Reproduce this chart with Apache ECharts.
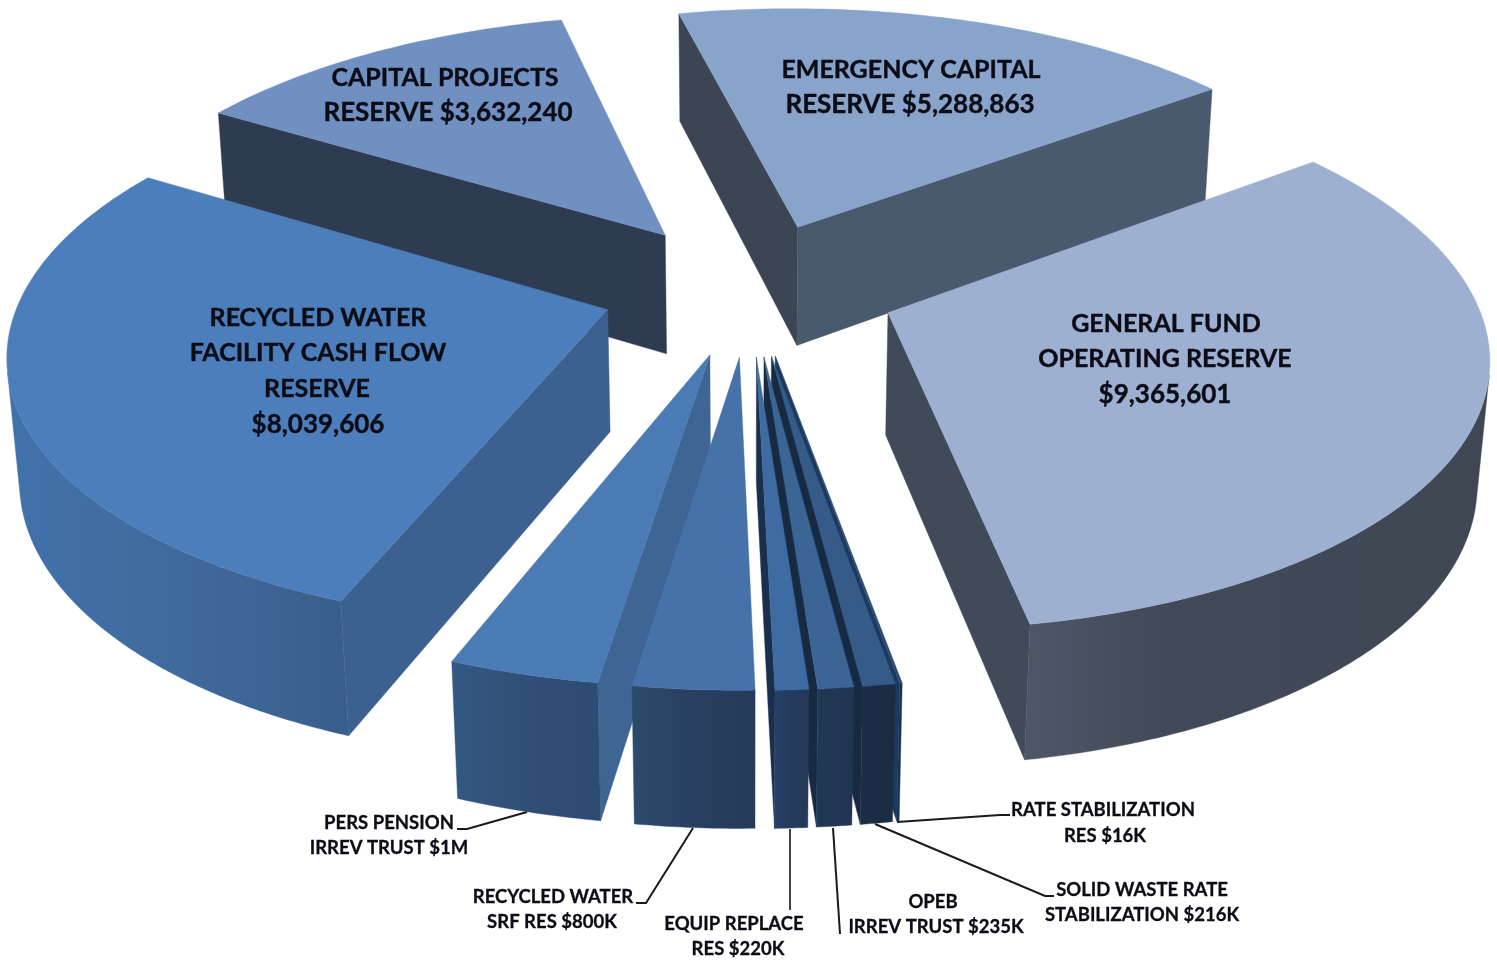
<!DOCTYPE html>
<html>
<head>
<meta charset="utf-8">
<title>Reserve balances</title>
<style>html,body{margin:0;padding:0;background:#fff}#chart{width:1497px;height:962px}</style>
<script src="https://cdn.jsdelivr.net/npm/echarts@6/dist/echarts.min.js"></script>
</head>
<body>
<div id="chart"></div>
<script>
// Reserve balances, clockwise from the general fund.
const sliceNames = ['General Fund Operating Reserve', 'Rate Stabilization Res', 'Solid Waste Rate Stabilization',
  'OPEB Irrev Trust', 'Equip Replace Res', 'Recycled Water SRF Res', 'PERS Pension Irrev Trust',
  'Recycled Water Facility Cash Flow Reserve', 'Capital Projects Reserve', 'Emergency Capital Reserve'];
const sliceValues = [9365601, 16000, 216000, 235000, 220000, 800000, 1000000, 8039606, 3632240, 5288863];

const bigLabels = [
  ['GENERAL FUND', 'OPERATING RESERVE', '$9,365,601'],
  ['EMERGENCY CAPITAL', 'RESERVE $5,288,863'],
  ['CAPITAL PROJECTS', 'RESERVE $3,632,240'],
  ['RECYCLED WATER', 'FACILITY CASH FLOW', 'RESERVE', '$8,039,606']
];
const smallLabels = [
  ['PERS PENSION', 'IRREV TRUST $1M'],
  ['RECYCLED WATER', 'SRF RES $800K'],
  ['EQUIP REPLACE', 'RES $220K'],
  ['OPEB', 'IRREV TRUST $235K'],
  ['SOLID WASTE RATE', 'STABILIZATION $216K'],
  ['RATE STABILIZATION', 'RES $16K']
];

// Layout of the text blocks: centre x and middle y of each line.
const bigLabelPos = [
  [[1166, 324], [1165, 359], [1165, 395]],
  [[911, 70], [910, 105]],
  [[445, 78], [448, 113]],
  [[318, 318], [318, 353], [317, 389], [318, 425]]
];
const smallLabelPos = [
  [[389, 823], [389, 848]],
  [[553, 897], [552, 922]],
  [[734, 924], [738, 949]],
  [[933, 902], [936, 927]],
  [[1142, 890], [1142, 915]],
  [[1103, 810], [1105, 836]]
];
const leaderPaths = [
  [[457, 829], [467, 829], [527, 812]],
  [[636, 903], [646, 903], [693, 828]],
  [[790, 829], [790, 910]],
  [[833, 828], [840, 934]],
  [[875, 824], [1045, 896], [1054, 896]],
  [[897, 822], [1000, 815], [1010, 815]]
];

// Colours per slice, same order as sliceValues.
const topColors = ['#9EB0D1', '#2A4A70', '#365B88', '#3A6595', '#3E6CA2', '#4671A9', '#4A7BB5', '#4C7EBB', '#7090C2', '#89A4CB'];
const startFaceColors = ['#414A58', '#1B3A5F', '#1B2D45', '#1B2D45', '#1B2F4C', '#2A4A70', '#3E6594', '#3C6090', '#2E3B50', '#3C4554'];
const endFaceColors = ['#414A58', '#1B3A5F', '#182A42', '#182A42', '#1B2F4C', '#2A4A70', '#3E6594', '#3C6090', '#2E3B50', '#4A5A6E'];
const wallColors = [
  ['#4E5768', '#424A58', '#3F4753'], ['#1A3250', '#1A3250', '#1A3250'], ['#1C2D45', '#1B2D44', '#1B2C42'],
  ['#213855', '#203654', '#1F3450'], ['#26416A', '#25395A', '#243858'], ['#2C4B6D', '#283F60', '#253B5A'],
  ['#345882', '#314F76', '#2E4C71'], ['#4272AB', '#3F6A9D', '#3A5E8B'], ['#2E3B50', '#2E3B50', '#2E3B50'], ['#4A5A6E', '#4A5A6E', '#4A5A6E']
];

// Painter's order: far slices first, then the front ones from right to left.
const drawOrder = [9, 8, 0, 7, 6, 5, 1, 2, 3, 4];

// Camera and solid geometry for the tilted, exploded pie.
const CX = 749, CY = 288, RADIUS = 585, DEPTH = 138, EXPLODE = 0.252;
const TILT = Math.asin(0.453), CAMERA = 3720, START_DEG = 53;
const total = sliceValues.reduce((a, b) => a + b, 0);

const sliceAngles = [];
sliceValues.reduce((acc, v) => {
  const next = acc + v / total * 360;
  sliceAngles.push([acc, next]);
  return next;
}, START_DEG);

const rad = d => d * Math.PI / 180;

function project(deg, r, bisector, bottom) {
  const X = RADIUS * (r * Math.sin(rad(deg)) + EXPLODE * Math.sin(rad(bisector)));
  const Y = RADIUS * (-r * Math.cos(rad(deg)) - EXPLODE * Math.cos(rad(bisector)));
  const Z = bottom ? -DEPTH : 0;
  const w = CAMERA - Y * Math.cos(TILT) - Z * Math.sin(TILT);
  return [CX + X * CAMERA / w, CY + (Y * Math.sin(TILT) - Z * Math.cos(TILT)) * CAMERA / w];
}

// True where the rim at this angle faces the camera.
function rimFacesCamera(deg, bisector) {
  const u = Math.sin(rad(deg)), v = -Math.cos(rad(deg));
  const px = RADIUS * (u + EXPLODE * Math.sin(rad(bisector)));
  const py = RADIUS * (v - EXPLODE * Math.cos(rad(bisector)));
  return u * (0 - px) + v * (CAMERA * Math.cos(TILT) - py) > 0;
}

function arcAngles(a0, a1, step) {
  const out = [];
  const n = Math.max(2, Math.ceil((a1 - a0) / step));
  for (let k = 0; k <= n; k++) out.push(a0 + (a1 - a0) * k / n);
  return out;
}

function poly(points, fill) {
  return { type: 'polygon', shape: { points: points }, style: { fill: fill, stroke: fill, lineWidth: 0.4 } };
}

function renderSlice(params, api) {
  const i = api.value(0);
  const a0 = sliceAngles[i][0], a1 = sliceAngles[i][1], mid = (a0 + a1) / 2;
  const children = [];
  const face = (deg, fill) => poly([
    project(0, 0, mid, false), project(deg, 1, mid, false),
    project(deg, 1, mid, true), project(0, 0, mid, true)
  ], fill);

  // A cut face shows when its outward normal turns towards the camera.
  const sin0 = Math.sin(rad(a0)), sin1 = Math.sin(rad(a1));
  if (sin0 < 0) children.push(face(a0, startFaceColors[i]));
  if (sin1 > 0) children.push(face(a1, endFaceColors[i]));

  // Outer wall, only the part of the rim turned to the camera.
  const angles = arcAngles(a0, a1, 0.5).filter(d => rimFacesCamera(d, mid));
  if (angles.length > 1) {
    const wall = angles.map(d => project(d, 1, mid, false))
      .concat(angles.slice().reverse().map(d => project(d, 1, mid, true)));
    const c = wallColors[i];
    children.push(poly(wall, new echarts.graphic.LinearGradient(0, 0, 1, 0, [
      { offset: 0, color: c[0] },
      { offset: i === 0 ? 0.3 : 0.5, color: c[1] },
      { offset: 1, color: c[2] }
    ])));
  }

  const top = [project(0, 0, mid, false)].concat(arcAngles(a0, a1, 1).map(d => project(d, 1, mid, false)));
  children.push(poly(top, topColors[i]));
  return { type: 'group', children: children };
}

function textLines(blocks, positions, size, weight, moneySize) {
  const out = [];
  blocks.forEach((lines, b) => lines.forEach((line, l) => {
    const px = /\d/.test(line) ? moneySize : size;
    out.push({
      type: 'text', x: positions[b][l][0], y: positions[b][l][1], z: 10,
      style: { text: line, fill: '#0C0C16', stroke: '#0C0C16', lineWidth: weight,
        font: 'bold ' + px + 'px Lato, "Open Sans", sans-serif',
        textAlign: 'center', textVerticalAlign: 'middle' }
    });
  }));
  return out;
}

const leaders = leaderPaths.map((pts, k) => ({
  type: 'polyline', z: 9, shape: { points: pts },
  style: { fill: 'none', stroke: k === 2 ? '#444' : '#1a1a1a', lineWidth: 2 }
}));

const chart = echarts.init(document.getElementById('chart'), null, { renderer: 'canvas' });
chart.setOption({
  animation: false,
  backgroundColor: '#fff',
  series: [{
    type: 'custom',
    coordinateSystem: 'none',
    renderItem: renderSlice,
    silent: true,
    data: drawOrder.map(i => ({ name: sliceNames[i], value: [i, sliceValues[i]] }))
  }],
  graphic: leaders.concat(textLines(bigLabels, bigLabelPos, 25, 0.4, 26), textLines(smallLabels, smallLabelPos, 18.5, 0.3, 18.5))
});
</script>
</body>
</html>
